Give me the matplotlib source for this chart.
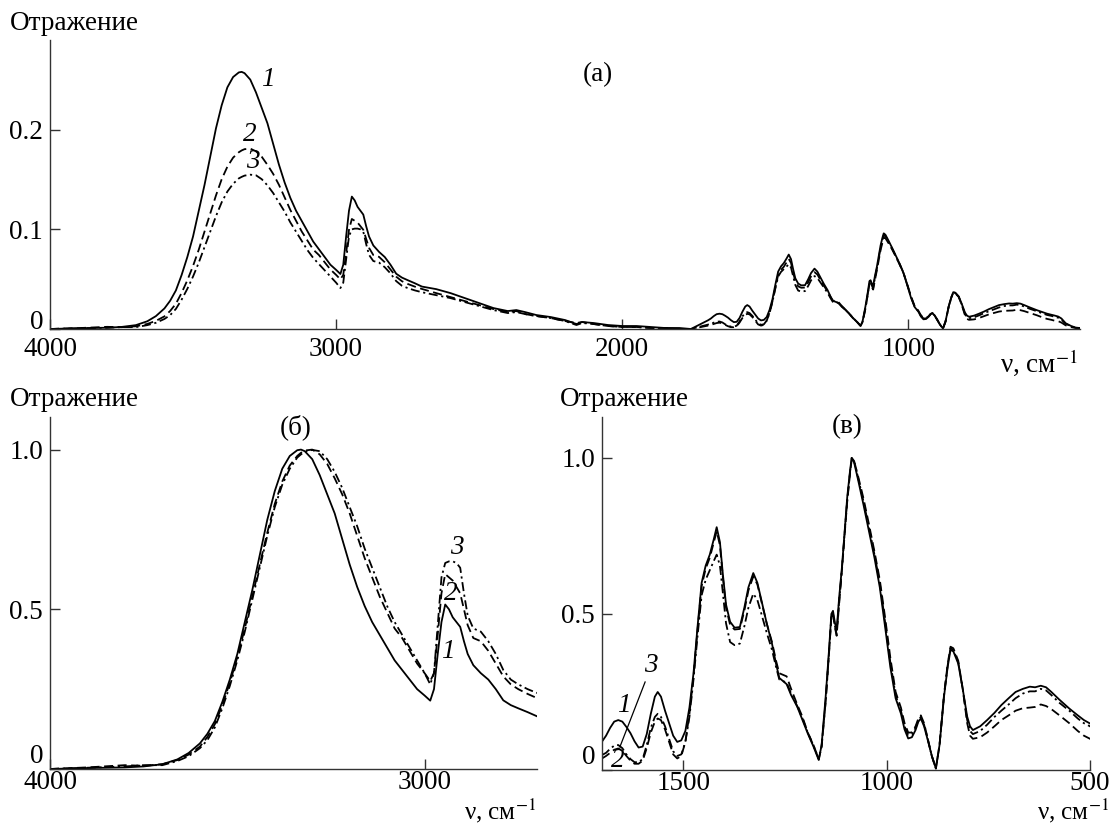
import numpy as np
import matplotlib
matplotlib.use('Agg')
import matplotlib.pyplot as plt

plt.rcParams.update({'font.family': 'Liberation Serif', 'font.size': 19.5,
                     'mathtext.fontset': 'stix'})

# OH / CH region, normalised to the OH maximum (panel б), 4000-2700 cm-1
wn_oh = [4000, 3900, 3800, 3750, 3700, 3660, 3630, 3600, 3580, 3560, 3540, 3520, 3500,
         3480, 3460, 3440, 3420, 3400, 3380, 3360, 3340, 3330, 3320, 3300, 3280, 3260,
         3240, 3220, 3200, 3180, 3160, 3140, 3120, 3100, 3080, 3060, 3040, 3020, 3000,
         2985, 2975, 2965, 2955, 2945, 2935, 2925, 2915, 2905, 2895, 2885, 2870, 2850,
         2830, 2810, 2790, 2770, 2750, 2725, 2700]
oh_1 = [0.0, 0.003, 0.005, 0.008, 0.015, 0.03, 0.05, 0.08, 0.11, 0.15, 0.21, 0.28, 0.36,
        0.46, 0.56, 0.67, 0.78, 0.87, 0.94, 0.98, 0.998, 1.0, 0.995, 0.97, 0.92, 0.86,
        0.80, 0.72, 0.64, 0.57, 0.51, 0.46, 0.42, 0.38, 0.34, 0.31, 0.28, 0.25, 0.23,
        0.214, 0.25, 0.36, 0.46, 0.515, 0.50, 0.475, 0.46, 0.445, 0.40, 0.36, 0.325, 0.30,
        0.28, 0.25, 0.215, 0.20, 0.19, 0.178, 0.165]
oh_2 = [0.0, 0.005, 0.012, 0.01, 0.015, 0.028, 0.045, 0.07, 0.10, 0.14, 0.20, 0.27, 0.35,
        0.44, 0.54, 0.64, 0.74, 0.83, 0.90, 0.95, 0.98, 0.99, 0.997, 1.0, 0.985, 0.955,
        0.91, 0.86, 0.80, 0.73, 0.66, 0.60, 0.54, 0.49, 0.44, 0.41, 0.37, 0.33, 0.30,
        0.275, 0.30, 0.42, 0.55, 0.61, 0.60, 0.59, 0.57, 0.55, 0.50, 0.45, 0.41, 0.40,
        0.37, 0.33, 0.29, 0.265, 0.25, 0.235, 0.222]
oh_3 = [0.0, 0.004, 0.008, 0.012, 0.012, 0.025, 0.04, 0.065, 0.09, 0.13, 0.19, 0.26, 0.34,
        0.43, 0.53, 0.63, 0.73, 0.82, 0.89, 0.94, 0.975, 0.985, 0.993, 0.999, 0.995, 0.97,
        0.93, 0.88, 0.82, 0.76, 0.69, 0.63, 0.57, 0.51, 0.46, 0.42, 0.38, 0.34, 0.30,
        0.265, 0.30, 0.45, 0.60, 0.645, 0.65, 0.65, 0.645, 0.63, 0.55, 0.48, 0.44, 0.43,
        0.40, 0.36, 0.31, 0.28, 0.265, 0.25, 0.238]

# middle region, raw reflectance (panel a only)
wn_mid = [2650, 2600, 2550, 2500, 2450, 2400, 2370, 2340, 2300, 2250, 2200, 2160, 2140,
          2100, 2050, 2000, 1950, 1900, 1850, 1800, 1760]
mid_1 = [0.040, 0.036, 0.031, 0.026, 0.021, 0.018, 0.019, 0.017, 0.014, 0.012, 0.009,
         0.005, 0.007, 0.006, 0.004, 0.003, 0.003, 0.002, 0.001, 0.001, 0.0]
mid_2 = [0.036, 0.032, 0.028, 0.024, 0.020, 0.017, 0.018, 0.015, 0.013, 0.011, 0.008,
         0.006, 0.007, 0.005, 0.003, 0.002, 0.002, 0.001, 0.001, 0.0, 0.0]
mid_3 = [0.034, 0.031, 0.027, 0.023, 0.019, 0.016, 0.017, 0.015, 0.013, 0.011, 0.008,
         0.004, 0.006, 0.005, 0.003, 0.002, 0.002, 0.001, 0.001, 0.0, 0.0]

# fingerprint region, normalised to the 1086 cm-1 band (panel в), 1700-400 cm-1
wn_fp = [1700, 1690, 1680, 1670, 1660, 1650, 1640, 1630, 1620, 1610, 1600, 1590, 1580,
         1570, 1563, 1555, 1545, 1535, 1525, 1515, 1505, 1495, 1485, 1475, 1465, 1455,
         1445, 1435, 1425, 1418, 1410, 1403, 1395, 1385, 1374, 1361, 1350, 1340, 1328,
         1318, 1308, 1295, 1282, 1272, 1264, 1255, 1246, 1235, 1220, 1207, 1194, 1180,
         1167, 1160, 1150, 1142, 1136, 1132, 1127, 1123, 1117, 1110, 1103, 1097, 1090,
         1086, 1080, 1070, 1057, 1044, 1030, 1017, 1004, 991, 978, 965, 956, 947, 938,
         929, 922, 916, 908, 899, 889, 879, 870, 859, 850, 843, 836, 824, 813, 802, 795,
         788, 770, 753, 735, 718, 700, 683, 665, 648, 635, 621, 608, 595, 575, 551, 530,
         515, 500, 488, 476, 465, 450, 430, 415, 400]
fp_1 = [0.091, 0.11, 0.135, 0.155, 0.16, 0.155, 0.138, 0.118, 0.092, 0.072, 0.075, 0.115,
        0.18, 0.235, 0.25, 0.235, 0.19, 0.15, 0.11, 0.09, 0.095, 0.125, 0.20, 0.31, 0.46,
        0.60, 0.655, 0.69, 0.74, 0.778, 0.73, 0.63, 0.53, 0.475, 0.456, 0.458, 0.52, 0.585,
        0.631, 0.60, 0.544, 0.47, 0.405, 0.34, 0.295, 0.285, 0.275, 0.24, 0.203, 0.16,
        0.117, 0.075, 0.032, 0.08, 0.235, 0.38, 0.50, 0.51, 0.47, 0.448, 0.55, 0.65, 0.77,
        0.874, 0.96, 1.0, 0.985, 0.928, 0.85, 0.768, 0.68, 0.586, 0.46, 0.33, 0.23, 0.181,
        0.13, 0.101, 0.105, 0.128, 0.155, 0.165, 0.14, 0.096, 0.045, 0.005, 0.08, 0.235,
        0.33, 0.385, 0.38, 0.341, 0.26, 0.171, 0.14, 0.128, 0.14, 0.16, 0.183, 0.208, 0.23,
        0.25, 0.26, 0.267, 0.265, 0.27, 0.265, 0.25, 0.225, 0.197, 0.175, 0.16, 0.149,
        0.14, 0.13, 0.11, 0.06, 0.03, 0.015, 0.01]
fp_2 = [0.037, 0.045, 0.055, 0.065, 0.069, 0.062, 0.045, 0.03, 0.02, 0.02, 0.03, 0.07,
        0.12, 0.155, 0.165, 0.16, 0.13, 0.09, 0.05, 0.037, 0.045, 0.09, 0.18, 0.30, 0.45,
        0.59, 0.645, 0.68, 0.73, 0.765, 0.72, 0.62, 0.52, 0.465, 0.45, 0.452, 0.51, 0.575,
        0.62, 0.595, 0.54, 0.47, 0.41, 0.35, 0.31, 0.305, 0.30, 0.26, 0.21, 0.17, 0.12,
        0.08, 0.035, 0.075, 0.22, 0.37, 0.49, 0.50, 0.455, 0.43, 0.53, 0.64, 0.76, 0.86,
        0.95, 0.995, 0.99, 0.94, 0.87, 0.79, 0.70, 0.61, 0.49, 0.36, 0.25, 0.20, 0.15,
        0.12, 0.12, 0.14, 0.165, 0.175, 0.15, 0.10, 0.045, 0.005, 0.08, 0.24, 0.34, 0.395,
        0.39, 0.35, 0.26, 0.15, 0.11, 0.10, 0.105, 0.12, 0.14, 0.16, 0.175, 0.19, 0.198,
        0.20, 0.202, 0.21, 0.205, 0.195, 0.175, 0.15, 0.125, 0.11, 0.10, 0.09, 0.085, 0.07,
        0.04, 0.02, 0.01, 0.008]
fp_3 = [0.048, 0.055, 0.068, 0.078, 0.08, 0.07, 0.05, 0.035, 0.025, 0.025, 0.035, 0.08,
        0.135, 0.17, 0.18, 0.17, 0.14, 0.10, 0.06, 0.045, 0.05, 0.09, 0.17, 0.29, 0.43,
        0.56, 0.61, 0.64, 0.67, 0.69, 0.655, 0.57, 0.47, 0.41, 0.40, 0.405, 0.46, 0.52,
        0.565, 0.545, 0.50, 0.44, 0.385, 0.33, 0.29, 0.285, 0.28, 0.245, 0.205, 0.165,
        0.12, 0.078, 0.035, 0.075, 0.22, 0.37, 0.49, 0.50, 0.46, 0.435, 0.54, 0.645, 0.765,
        0.865, 0.955, 1.0, 0.99, 0.935, 0.86, 0.78, 0.69, 0.60, 0.475, 0.345, 0.24, 0.19,
        0.14, 0.112, 0.113, 0.135, 0.16, 0.17, 0.145, 0.10, 0.045, 0.005, 0.08, 0.24,
        0.335, 0.39, 0.385, 0.345, 0.26, 0.16, 0.125, 0.115, 0.125, 0.145, 0.17, 0.19,
        0.21, 0.23, 0.245, 0.252, 0.252, 0.26, 0.255, 0.24, 0.215, 0.19, 0.165, 0.15, 0.14,
        0.13, 0.12, 0.10, 0.055, 0.028, 0.014, 0.01]

# band maxima in raw reflectance units (panel a)
oh_peak = [0.258, 0.181, 0.155]
fp_peak = [0.096, 0.092, 0.094]

oh = [oh_1, oh_2, oh_3]
mid = [mid_1, mid_2, mid_3]
fp = [fp_1, fp_2, fp_3]
styles = ['-', (0, (5, 2.5)), (0, (5, 2, 1.2, 2))]

W, H = 1112, 826
fig = plt.figure(figsize=(W / 100, H / 100), dpi=100)


def px_axes(l, t, r, b):
    return fig.add_axes([l / W, 1 - b / H, (r - l) / W, (b - t) / H])


def ytick_fmt(v, _):
    return '0' if v == 0 else f'{v:.1f}'


def style(ax, xticks, yticks, xpad, zero_va):
    ax.set_xticks(xticks)
    ax.set_yticks(yticks)
    ax.yaxis.set_major_formatter(plt.FuncFormatter(ytick_fmt))
    for s in ['top', 'right']:
        ax.spines[s].set_visible(False)
    for s in ['left', 'bottom']:
        ax.spines[s].set_linewidth(1.0)
        ax.spines[s].set_color('#333333')
    ax.tick_params(direction='in', length=7, width=1.0, color='#333333')
    ax.tick_params(axis='x', pad=xpad)
    ax.tick_params(axis='y', pad=5)
    # lift the zero label so it clears the first x label
    ax.get_yticklabels()[0].set_va(zero_va)


# (a) full spectrum
ax = px_axes(50, 40, 1080, 329)
wn_all = list(wn_oh) + wn_mid + wn_fp
for i in range(3):
    y = [v * oh_peak[i] for v in oh[i]] + mid[i] + [v * fp_peak[i] for v in fp[i]]
    ax.plot(wn_all, y, color='black', lw=1.3, linestyle=styles[i])
ax.set_xlim(4000, 400)
ax.set_ylim(0, 0.29)
style(ax, [4000, 3000, 2000, 1000], [0, 0.1, 0.2], 6, 'baseline')
for lab, x, y in [('1', 3240, 0.250), ('2', 3303, 0.195), ('3', 3290, 0.168)]:
    ax.text(x, y, lab, style='italic', ha='center', va='center')

# (б) OH region, normalised
axb = px_axes(50, 417, 537, 769)
for i in range(3):
    axb.plot(wn_oh, oh[i], color='black', lw=1.3, linestyle=styles[i])
axb.set_xlim(4000, 2700)
axb.set_ylim(0, 1.102)
style(axb, [4000, 3000], [0, 0.5, 1.0], 0.5, 'bottom')
for lab, x, y in [('3', 2915, 0.695), ('2', 2931, 0.55), ('1', 2939, 0.367)]:
    axb.text(x, y, lab, style='italic', ha='center', va='center')

# (в) fingerprint region, normalised
axc = px_axes(602, 417, 1090, 770)
for i in range(3):
    axc.plot(wn_fp, fp[i], color='black', lw=1.3, linestyle=styles[i])
axc.set_xlim(1700, 500)
axc.set_ylim(0, 1.131)
style(axc, [1500, 1000, 500], [0, 0.5, 1.0], 0.5, 'bottom')
axc.plot([1594, 1656], [0.282, 0.074], color='black', lw=0.9)
for lab, x, y in [('3', 1580, 0.336), ('1', 1647, 0.208), ('2', 1661, 0.032)]:
    axc.text(x, y, lab, style='italic', ha='center', va='center')

# panel captions and axis names
for txt, x, y in [('(a)', 598, 75), ('(б)', 296, 427), ('(в)', 847, 427)]:
    fig.text(x / W, 1 - y / H, txt, ha='center', va='center')
for x, y in [(10, 24), (10, 400), (560, 400)]:
    fig.text(x / W, 1 - y / H, 'Отражение', ha='left', va='center')
fig.text(1078 / W, 1 - 378 / H, r'ν, см$^{-1}$', ha='right', va='bottom')
for x in [536, 1109]:
    fig.text(x / W, 1 / H, r'ν, см$^{-1}$', ha='right', va='bottom', fontsize=18)

fig.savefig('out.png', dpi=100)
